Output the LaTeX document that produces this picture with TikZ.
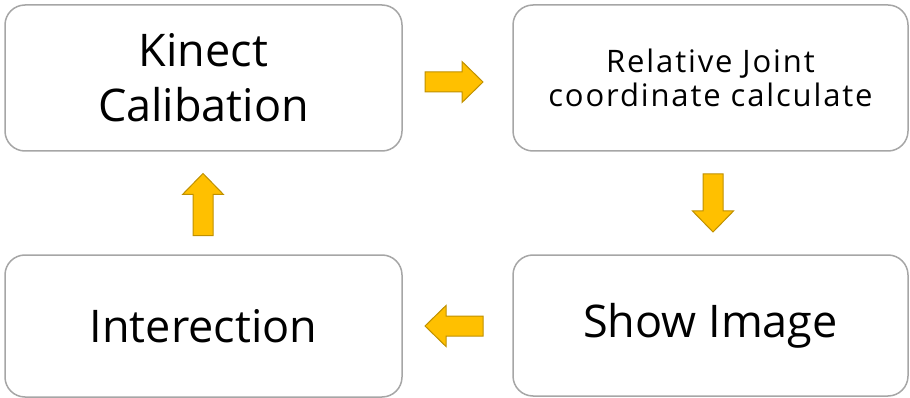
\documentclass[tikz,border=0pt]{standalone}
\usepackage{fontspec}
\setmainfont{Open Sans}
\newfontfamily\smallface[LetterSpace=6]{Open Sans}
\begin{document}
\begin{tikzpicture}[x=1pt,y=-1pt,
  box/.style={draw=boxgray, line width=1.5pt, rounded corners=20pt, fill=white, inner sep=0pt, align=center},
  bigtxt/.style={font=\fontsize{45}{55}\selectfont},
  smalltxt/.style={font=\smallface\fontsize{31}{34}\selectfont},
  blockarrow/.style={fill=arrowfill, draw=arrowline, line width=1pt, line join=miter}]
\definecolor{boxgray}{HTML}{A6A6A6}
\definecolor{arrowfill}{HTML}{FFC000}
\definecolor{arrowline}{HTML}{BF9000}
\useasboundingbox (0,0) rectangle (910,398);
\node[box, minimum width=397pt, minimum height=146pt] (kin) at (203.5,78) {};
\node[box, minimum width=395pt, minimum height=146pt] (rel) at (710.5,78) {};
\node[box, minimum width=397pt, minimum height=142pt] (int) at (203.5,326) {};
\node[box, minimum width=395pt, minimum height=141pt] (show) at (710.5,325.5) {};
\node[bigtxt, align=center] (kint) at (kin.center) {Kinect\\Calibation};
\node[smalltxt, align=center] (relt) at (rel.center) {Relative Joint\\coordinate calculate};
\node[bigtxt] (intt) at (int.center) {Interection};
\node[bigtxt] (showt) at (show.center) {Show Image};
% block arrows
\coordinate (a1) at (454,82);
\coordinate (a2) at (713,203);
\coordinate (a3) at (454,326);
\coordinate (a4) at (203,204.5);
\draw[blockarrow, shift={(a1)}] (-29,-10)--(8,-10)--(8,-20.5)--(29,0)--(8,20.5)--(8,10)--(-29,10)--cycle;
\draw[blockarrow, shift={(a2)}, rotate=270] (-29,-10)--(8,-10)--(8,-20.5)--(29,0)--(8,20.5)--(8,10)--(-29,10)--cycle;
\draw[blockarrow, shift={(a3)}, rotate=180] (-29,-10)--(8,-10)--(8,-20.5)--(29,0)--(8,20.5)--(8,10)--(-29,10)--cycle;
\draw[blockarrow, shift={(a4)}, rotate=90] (-31,-10)--(10,-10)--(10,-20.5)--(31,0)--(10,20.5)--(10,10)--(-31,10)--cycle;
\end{tikzpicture}
\end{document}
